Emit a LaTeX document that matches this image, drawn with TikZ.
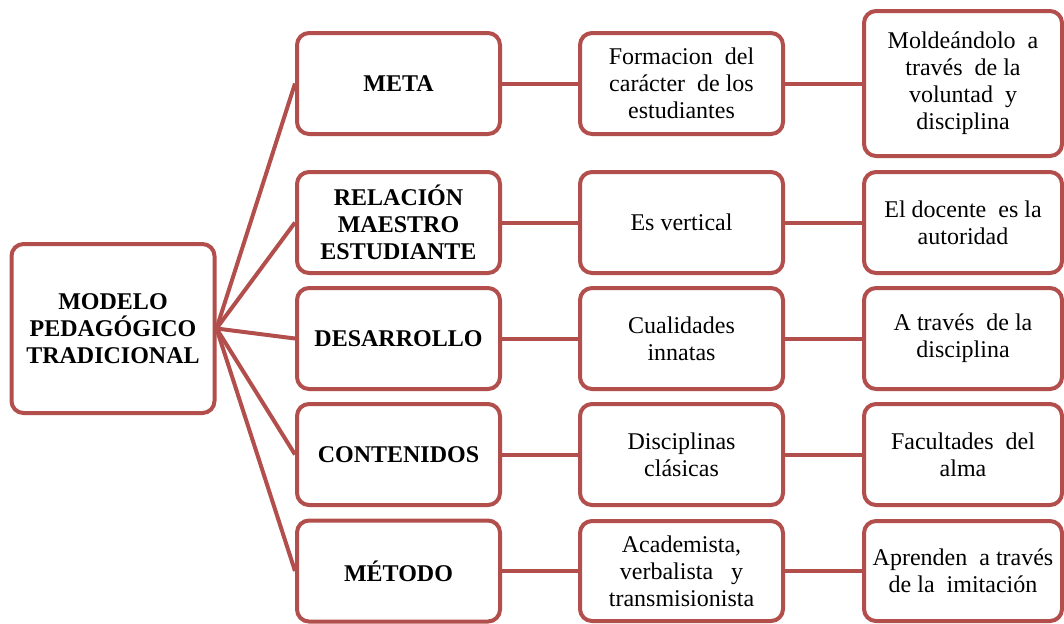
\documentclass[tikz,border=0pt]{standalone}
\usepackage{fontspec}
\setmainfont{Liberation Serif}
\usetikzlibrary{positioning}
\definecolor{boxred}{RGB}{178,78,75}

\begin{document}
\begin{tikzpicture}[x=0.5pt,y=-0.5pt,
    box/.style={draw=boxred,line width=2pt,rounded corners=6pt,fill=white,
      align=center,inner sep=0,minimum width=101.5pt,minimum height=50.5pt,
      font=\fontsize{12}{13.5}\selectfont},
    head/.style={box,font=\fontsize{12}{13.5}\selectfont\bfseries},
    link/.style={draw=boxred,line width=2pt}]
  \useasboundingbox (0,0) rectangle (1064,623);
  % root of the map
  \node (modelo) [head,minimum height=84.5pt] at (113,328.5)
    {MODELO\\PEDAG\'OGICO\\TRADICIONAL};
  % first column: the headings
  \node (meta) [head] at (398.5,83.5) {META};
  \node (relacion) [head] at (398.5,222.5) {RELACI\'ON\\MAESTRO\\ESTUDIANTE};
  \node (desarrollo) [head] at (398.5,338.5) {DESARROLLO};
  \node (contenidos) [head] at (398.5,454.5) {CONTENIDOS};
  \node (metodo) [head] at (398.5,571) {M\'ETODO};
  % second column
  \node (meta-a) [box] at (681.5,83.5) {Formacion \ del\\car\'acter \ de los\\estudiantes};
  \node (relacion-a) [box] at (681.5,222.5) {Es vertical};
  \node (desarrollo-a) [box] at (681.5,338.5) {Cualidades\\innatas};
  \node (contenidos-a) [box] at (681.5,454.5) {Disciplinas\\cl\'asicas};
  \node (metodo-a) [box,minimum height=50pt] at (681.5,571) {Academista,\\verbalista \ \ y\\transmisionista};
  % third column
  \node (meta-b) [box,minimum width=99pt,minimum height=72.5pt] at (963,83.5)
    {Molde\'andolo \ a\\trav\'es \ de la\\voluntad \ y\\disciplina};
  \node (relacion-b) [box,minimum width=99pt] at (963,222.5) {El docente \ es la\\autoridad};
  \node (desarrollo-b) [box,minimum width=99pt] at (963,338.5) {A trav\'es \ de la\\disciplina};
  \node (contenidos-b) [box,minimum width=99pt] at (963,454.5) {Facultades \ del\\alma};
  \node (metodo-b) [box,minimum width=99pt,minimum height=50pt] at (963,571) {Aprenden \ a trav\'es\\de la \ imitaci\'on};
  % connectors
  \foreach \n in {meta,relacion,desarrollo,contenidos,metodo} {
    \draw [link] (modelo.east) -- (\n.west);
    \draw [link] (\n.east) -- (\n-a.west);
    \draw [link] (\n-a.east) -- (\n-b.west);
  }
\end{tikzpicture}
\end{document}
